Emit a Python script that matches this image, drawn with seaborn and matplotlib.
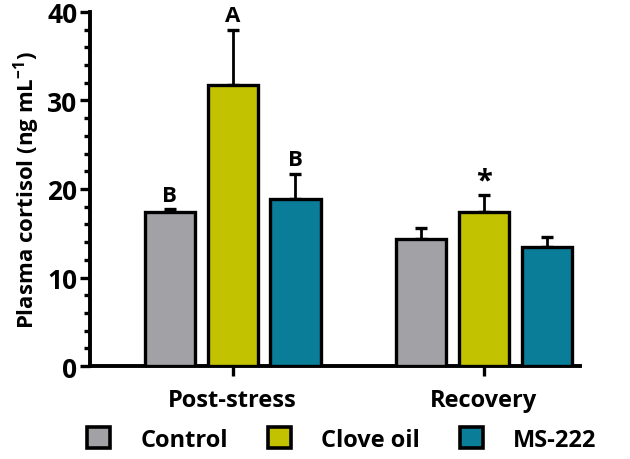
import matplotlib
matplotlib.use('Agg')
import matplotlib.pyplot as plt
import seaborn as sns
import pandas as pd
from matplotlib.ticker import MultipleLocator
from matplotlib.patches import Patch

phases = ['Post-stress', 'Recovery']
groups = ['Control', 'Clove oil', 'MS-222']
colors = ['#A2A1A5', '#C3C200', '#0A7D98']

# mean values per group, one entry per phase
control_mean = [17.4, 14.4]
clove_mean = [31.7, 17.4]
ms222_mean = [18.9, 13.5]
control_err = [0.3, 1.2]
clove_err = [6.3, 1.9]
ms222_err = [2.8, 1.1]
letters = {'Control': ['B', ''], 'Clove oil': ['A', '*'], 'MS-222': ['B', '']}

df = pd.DataFrame({
    'phase': phases * 3,
    'group': [g for g in groups for _ in phases],
    'cortisol': control_mean + clove_mean + ms222_mean,
    'err': control_err + clove_err + ms222_err,
})

sns.set_style('ticks', {'axes.edgecolor': 'black', 'text.color': 'black',
                        'axes.labelcolor': 'black', 'xtick.color': 'black',
                        'ytick.color': 'black'})
plt.rcParams['font.family'] = ['Open Sans', 'DejaVu Sans']
plt.rcParams['font.weight'] = 'bold'
plt.rcParams['mathtext.fontset'] = 'custom'
plt.rcParams['mathtext.rm'] = 'Open Sans:bold'
plt.rcParams['mathtext.bf'] = 'Open Sans:bold'
plt.rcParams['mathtext.default'] = 'bf'

fig = plt.figure(figsize=(6.3, 4.6), dpi=100)
ax = fig.add_axes([0.143, 0.202, 0.777, 0.77])

sns.barplot(data=df, x='phase', y='cortisol', hue='group', order=phases,
            hue_order=groups, palette=colors, saturation=1, width=0.75, gap=0.2,
            edgecolor='black', linewidth=2.4, errorbar=None, ax=ax,
            legend=False, zorder=3)

for cont, g in zip(ax.containers, groups):
    sub = df[df['group'] == g].set_index('phase').loc[phases]
    xs = [b.get_x() + b.get_width() / 2 for b in cont]
    ax.errorbar(xs, sub['cortisol'], yerr=[[0] * len(xs), sub['err']],
                fmt='none', ecolor='black', elinewidth=2, capsize=4,
                capthick=2.4, zorder=2)
    for x, top, lab in zip(xs, sub['cortisol'] + sub['err'], letters[g]):
        if lab:
            ax.text(x, top + (0.0 if lab == '*' else 0.4), lab, ha='center',
                    va='bottom', color='black',
                    fontsize=21 if lab == '*' else 16, fontweight='bold')

ax.set_ylim(0, 40)
ax.set_xlim(-0.567, 1.38)
ax.yaxis.set_major_locator(MultipleLocator(10))
ax.yaxis.set_minor_locator(MultipleLocator(2))
ax.tick_params(axis='y', which='major', length=7, width=2.4, labelsize=19, pad=2,
               color='black', labelcolor='black')
ax.tick_params(axis='y', which='minor', length=4, width=2.4, color='black')
ax.tick_params(axis='x', which='major', length=7, width=2.4, labelsize=17, pad=9,
               color='black', labelcolor='black')
for lab in ax.get_xticklabels() + ax.get_yticklabels():
    lab.set_fontweight('bold')
for s in ['left', 'bottom']:
    ax.spines[s].set_linewidth(2.8)
    ax.spines[s].set_color('black')
sns.despine(ax=ax)
ax.set_xlabel('')
ax.set_ylabel('Plasma cortisol (ng mL$^{-1}$)', fontsize=16, color='black',
              fontweight='bold', labelpad=4)

handles = [Patch(facecolor=c, edgecolor='black', linewidth=2.6) for c in colors]
leg = fig.legend(handles, groups, loc='lower center', bbox_to_anchor=(0.543, -0.03),
                 ncol=3, frameon=False, fontsize=17, handlelength=0.95,
                 handleheight=0.95, columnspacing=1.7, handletextpad=1.3)
for t in leg.get_texts():
    t.set_fontweight('bold')
    t.set_color('black')

fig.savefig('out.png', dpi=100)
